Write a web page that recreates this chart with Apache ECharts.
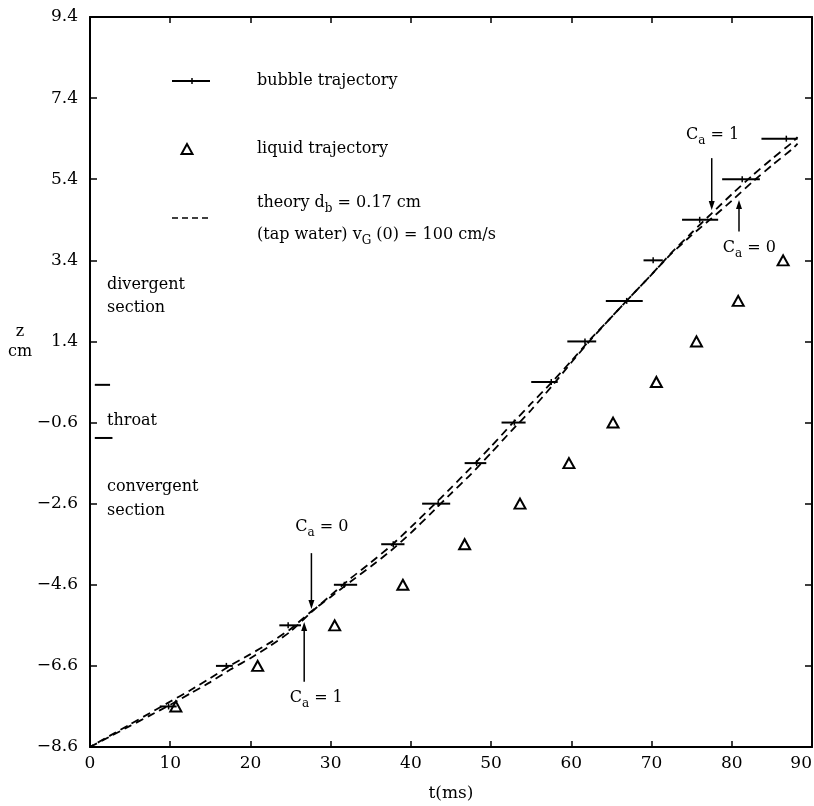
<!DOCTYPE html>
<html><head><meta charset="utf-8">
<script src="https://cdn.jsdelivr.net/npm/echarts@6/dist/echarts.min.js"></script>
<style>html,body{margin:0;padding:0;background:#fff}#c{width:814px;height:806px}</style>
</head><body><div id="c"></div>
<script>
// ---- data ----
const yTicks = [-8.6, -6.6, -4.6, -2.6, -0.6, 1.4, 3.4, 5.4, 7.4, 9.4];
const xTicks = [0, 10, 20, 30, 40, 50, 60, 70, 80, 90];

const bubbleZ    = [-7.6, -6.6, -5.6, -4.6, -3.6, -2.6, -1.6, -0.6, 0.4, 1.4, 2.4, 3.4, 4.4, 5.4, 6.4];
const bubbleT    = [9.8, 17.0, 24.7, 31.7, 37.8, 43.4, 48.2, 52.9, 57.5, 61.7, 66.9, 70.2, 76.0, 81.3, 86.8];
const bubbleTmin = [8.7, 15.7, 23.6, 30.4, 36.3, 41.4, 46.7, 51.3, 55.0, 59.5, 64.3, 69.0, 73.8, 78.8, 83.7];
const bubbleTmax = [10.8, 17.8, 26.3, 33.3, 39.2, 44.9, 49.4, 54.3, 58.3, 63.1, 68.9, 71.4, 78.3, 83.5, 88.2];

const liquidT = [10.7, 20.9, 30.5, 39.0, 46.7, 53.6, 59.7, 65.2, 70.6, 75.6, 80.8, 86.4];
const liquidZ = [-7.6, -6.6, -5.6, -4.6, -3.6, -2.6, -1.6, -0.6, 0.4, 1.4, 2.4, 3.4];

const theoryT   = [0, 2.5, 5, 7.5, 10, 12.5, 15, 17.5, 20, 22.5, 25, 27.5, 30, 32.5, 35, 37.5, 40, 42.5, 45, 47.5, 50, 52.5, 55, 57.5, 60, 62.5, 65, 67.5, 70, 72.5, 75, 77.5, 80, 82.5, 85, 87.5, 88.2];
const theoryCa1 = [-8.6, -8.34, -8.08, -7.82, -7.56, -7.28, -7.0, -6.69, -6.41, -6.10, -5.75, -5.29, -4.86, -4.44, -4.05, -3.64, -3.18, -2.70, -2.21, -1.71, -1.19, -0.65, -0.13, 0.38, 0.92, 1.48, 2.0, 2.53, 3.05, 3.59, 4.08, 4.56, 5.03, 5.48, 5.90, 6.30, 6.44];
const theoryCa0 = [-8.6, -8.32, -8.04, -7.76, -7.48, -7.20, -6.90, -6.59, -6.31, -6.02, -5.69, -5.27, -4.90, -4.52, -4.15, -3.76, -3.32, -2.84, -2.35, -1.87, -1.35, -0.81, -0.29, 0.28, 0.88, 1.46, 2.0, 2.53, 3.05, 3.57, 4.02, 4.44, 4.87, 5.32, 5.74, 6.14, 6.28];

const throatTmin = [0.6, 0.6];
const throatTmax = [2.5, 2.8];
const throatZ    = [0.33, -0.98];

// arrows: t, z start, z tip
const arrowT  = [27.6, 26.7, 77.5, 80.9];
const arrowZ0 = [-3.82, -6.99, 5.92, 4.11];
const arrowZ1 = [-5.2, -5.52, 4.64, 4.89];

// C_a labels
const caLabels = ['0', '1', '1', '0'];
const caT = [28.9, 28.2, 77.6, 82.2];
const caZ = [-3.17, -7.39, 6.49, 3.70];

// ---- chart ----
const FONT = 'DejaVu Serif';
const fmt = v => (v < 0 ? '\u2212' : '') + Math.abs(v).toFixed(1);
const rich = {
  m: {fontFamily: FONT, fontSize: 16, lineHeight: 24, color: '#000'},
  s: {fontFamily: FONT, fontSize: 12, lineHeight: 12, verticalAlign: 'bottom', color: '#000'}
};
const chart = echarts.init(document.getElementById('c'), null, {renderer: 'canvas'});

const axisLine = {show: true, onZero: false, lineStyle: {color: '#000', width: 2}};
const tickStyle = {color: '#000', width: 1.5};

function txt(x, y, text) {
  return {type: 'text', x, y, style: {text, rich, fill: '#000', verticalAlign: 'middle', align: 'left'}};
}

const option = {
  animation: false,
  backgroundColor: '#fff',
  grid: {left: 90, right: 2, top: 17, bottom: 59, containLabel: false, outerBoundsMode: 'none'},
  xAxis: [
    {type: 'value', min: 0, max: 90, interval: 10, axisLine,
     axisTick: {show: true, inside: true, length: 6, lineStyle: tickStyle},
     axisLabel: {margin: 8, color: '#000', fontFamily: FONT, fontSize: 17, alignMaxLabel: 'right'},
     splitLine: {show: false},
     name: 't(ms)', nameLocation: 'middle', nameGap: 38,
     nameTextStyle: {color: '#000', fontFamily: FONT, fontSize: 17}},
    {type: 'value', min: 0, max: 90, interval: 10, position: 'top', axisLine,
     axisTick: {show: true, inside: true, length: 6, lineStyle: tickStyle},
     axisLabel: {show: false}, splitLine: {show: false}}
  ],
  yAxis: [
    {type: 'value', min: -8.6, max: 9.4, axisLine,
     axisTick: {show: true, inside: true, length: 7, customValues: yTicks, lineStyle: tickStyle},
     axisLabel: {customValues: yTicks, formatter: fmt, margin: 12, color: '#000', fontFamily: FONT, fontSize: 17},
     splitLine: {show: false}},
    {type: 'value', min: -8.6, max: 9.4, position: 'right', axisLine,
     axisTick: {show: true, inside: true, length: 7, customValues: yTicks, lineStyle: tickStyle},
     axisLabel: {show: false}, splitLine: {show: false}}
  ],
  series: [
    {type: 'line', name: 'Ca1', data: theoryT.map((t, i) => [t, theoryCa1[i]]), symbol: 'none', smooth: 0.2,
     lineStyle: {color: '#000', width: 1.8, type: [8, 5]}},
    {type: 'line', name: 'Ca0', data: theoryT.map((t, i) => [t, theoryCa0[i]]), symbol: 'none', smooth: 0.2,
     lineStyle: {color: '#000', width: 1.8, type: [8, 5], dashOffset: 4}},
    {type: 'custom', name: 'bubble',
     data: bubbleZ.map((z, i) => [bubbleTmin[i], bubbleTmax[i], bubbleT[i], z]),
     encode: {x: [0, 1, 2], y: 3},
     renderItem: (p, api) => {
       const z = api.value(3);
       const a = api.coord([api.value(0), z]), b = api.coord([api.value(1), z]), c = api.coord([api.value(2), z]);
       return {type: 'group', children: [
         {type: 'line', shape: {x1: a[0], y1: a[1], x2: b[0], y2: b[1]}, style: {stroke: '#000', lineWidth: 2}},
         {type: 'line', shape: {x1: c[0], y1: c[1] - 3, x2: c[0], y2: c[1] + 3}, style: {stroke: '#000', lineWidth: 1.5}}
       ]};
     }},
    {type: 'scatter', name: 'liquid', data: liquidT.map((t, i) => [t, liquidZ[i]]),
     symbol: 'triangle', symbolSize: [11, 10],
     itemStyle: {color: 'transparent', borderColor: '#000', borderWidth: 2, opacity: 1}},
    {type: 'custom', name: 'throat',
     data: throatZ.map((z, i) => [throatTmin[i], throatTmax[i], z]),
     encode: {x: [0, 1], y: 2},
     renderItem: (p, api) => {
       const a = api.coord([api.value(0), api.value(2)]), b = api.coord([api.value(1), api.value(2)]);
       return {type: 'line', shape: {x1: a[0], y1: a[1], x2: b[0], y2: b[1]}, style: {stroke: '#000', lineWidth: 2}};
     }},
    {type: 'custom', name: 'arrows',
     data: arrowT.map((t, i) => [t, arrowZ0[i], arrowZ1[i]]),
     encode: {x: 0, y: [1, 2]},
     renderItem: (p, api) => {
       const a = api.coord([api.value(0), api.value(1)]), b = api.coord([api.value(0), api.value(2)]);
       const s = b[1] > a[1] ? 1 : -1;
       return {type: 'group', children: [
         {type: 'line', shape: {x1: a[0], y1: a[1], x2: b[0], y2: b[1] - s * 6}, style: {stroke: '#000', lineWidth: 1.5}},
         {type: 'polygon', shape: {points: [[b[0], b[1]], [b[0] - 3, b[1] - s * 9], [b[0] + 3, b[1] - s * 9]]}, style: {fill: '#000'}}
       ]};
     }},
    {type: 'custom', name: 'caLabels',
     data: caT.map((t, i) => [t, caZ[i], i]),
     encode: {x: 0, y: 1},
     renderItem: (p, api) => {
       const c = api.coord([api.value(0), api.value(1)]);
       const lab = caLabels[api.value(2)];
       return {type: 'text', x: c[0], y: c[1],
         style: {text: '{m|C}{s|a}{m| = ' + lab + '}', rich, fill: '#000', align: 'center', verticalAlign: 'middle'}};
     }}
  ],
  graphic: [
    {type: 'line', shape: {x1: 172, y1: 81, x2: 210, y2: 81}, style: {stroke: '#000', lineWidth: 2}},
    {type: 'line', shape: {x1: 192, y1: 78, x2: 192, y2: 84}, style: {stroke: '#000', lineWidth: 1.5}},
    txt(257, 81, '{m|bubble trajectory}'),
    {type: 'polygon', shape: {points: [[187, 144], [181.5, 154], [192.5, 154]]}, style: {fill: 'none', stroke: '#000', lineWidth: 2}},
    txt(257, 149, '{m|liquid trajectory}'),
    {type: 'line', shape: {x1: 172, y1: 218, x2: 210, y2: 218}, style: {stroke: '#000', lineWidth: 1.5, lineDash: [6, 4]}},
    txt(257, 203, '{m|theory d}{s|b}{m| = 0.17 cm}'),
    txt(257, 235, '{m|(tap water) v}{s|G}{m| (0) = 100 cm/s}'),
    txt(107, 285, '{m|divergent}'),
    txt(107, 308, '{m|section}'),
    txt(107, 421, '{m|throat}'),
    txt(107, 487, '{m|convergent}'),
    txt(107, 511, '{m|section}'),
    {type: 'text', x: 20, y: 332, style: {text: 'z', font: '16px "DejaVu Serif"', fill: '#000', align: 'center', verticalAlign: 'middle'}},
    {type: 'text', x: 20, y: 352, style: {text: 'cm', font: '16px "DejaVu Serif"', fill: '#000', align: 'center', verticalAlign: 'middle'}}
  ]
};
chart.setOption(option);
</script></body></html>
